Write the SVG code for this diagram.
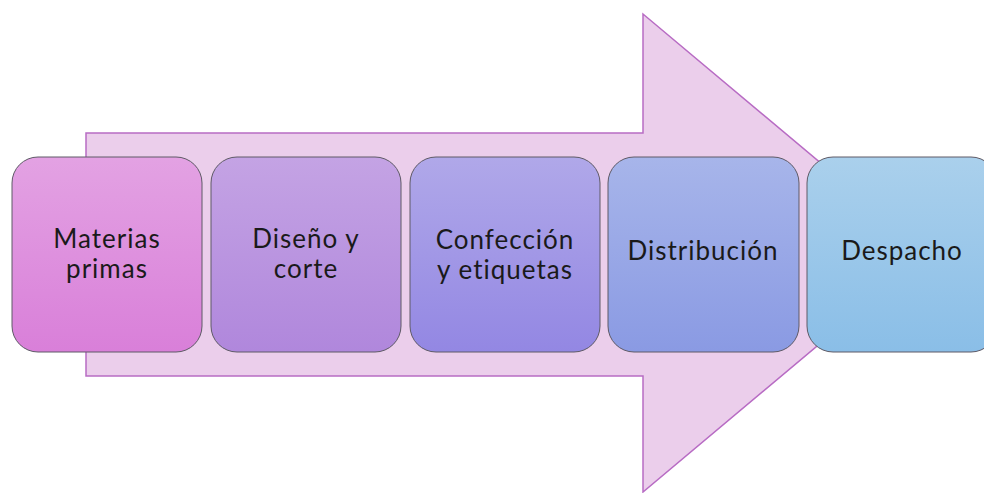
<svg xmlns="http://www.w3.org/2000/svg" width="984" height="493" viewBox="0 0 984 493">
<defs>
<linearGradient id="g1" x1="0" y1="0" x2="0" y2="1"><stop offset="0" stop-color="#E3A2E3"/><stop offset="1" stop-color="#D97FD9"/></linearGradient>
<linearGradient id="g2" x1="0" y1="0" x2="0" y2="1"><stop offset="0" stop-color="#C4A3E4"/><stop offset="1" stop-color="#B087DC"/></linearGradient>
<linearGradient id="g3" x1="0" y1="0" x2="0" y2="1"><stop offset="0" stop-color="#B0A8E9"/><stop offset="1" stop-color="#9387E3"/></linearGradient>
<linearGradient id="g4" x1="0" y1="0" x2="0" y2="1"><stop offset="0" stop-color="#A7B5EA"/><stop offset="1" stop-color="#8A9AE3"/></linearGradient>
<linearGradient id="g5" x1="0" y1="0" x2="0" y2="1"><stop offset="0" stop-color="#AAD0EC"/><stop offset="1" stop-color="#8ABEE7"/></linearGradient>
</defs>
<style>
.box{stroke:#5E5A66;stroke-width:1}
.t{font-family:Lato,"Open Sans","Liberation Sans",sans-serif;font-size:26px;letter-spacing:1px;fill:#1A1A1A;text-anchor:middle}
</style>
<rect width="984" height="493" fill="#FFFFFF"/>
<g id="arrow">
<polygon points="86,133 643,133 643,14 928,253 643,492 643,376 86,376" fill="#EBCEEB" stroke="#B86CC4" stroke-width="1.5"/>
</g>
<g id="n1"><rect class="box" x="12" y="157" width="190" height="195" rx="26" fill="url(#g1)"/>
<text class="t" x="107" y="248">Materias</text><text class="t" x="107" y="278">primas</text></g>
<g id="n2"><rect class="box" x="211" y="157" width="190" height="195" rx="26" fill="url(#g2)"/>
<text class="t" x="306" y="248">Diseño y</text><text class="t" x="306" y="278">corte</text></g>
<g id="n3"><rect class="box" x="410" y="157" width="190" height="195" rx="26" fill="url(#g3)"/>
<text class="t" x="505" y="249">Confección</text><text class="t" x="505" y="279">y etiquetas</text></g>
<g id="n4"><rect class="box" x="608" y="157" width="191" height="195" rx="26" fill="url(#g4)"/>
<text class="t" x="703" y="260">Distribución</text></g>
<g id="n5"><rect class="box" x="807" y="157" width="190" height="195" rx="26" fill="url(#g5)"/>
<text class="t" x="902" y="260">Despacho</text></g>
<g id="connectors"></g>
</svg>
